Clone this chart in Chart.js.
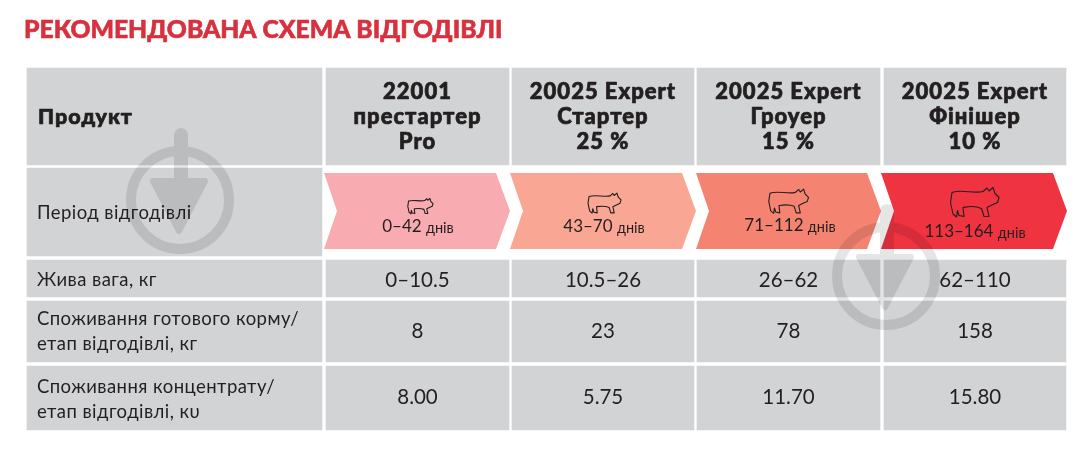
<!DOCTYPE html>
<html>
<head>
<meta charset="utf-8">
<style>
    html, body { margin: 0; padding: 0; background: #fff; }
    canvas { display: block; }
</style>
<script src="https://cdn.jsdelivr.net/npm/chart.js@4"></script>
</head>
<body>
<canvas id="scheme" width="1086" height="455"></canvas>
<script>
const title = "РЕКОМЕНДОВАНА СХЕМА ВІДГОДІВЛІ";
const productHeader = "Продукт";
const products = [
    ["22001", "престартер", "Pro"],
    ["20025 Expert", "Стартер", "25 %"],
    ["20025 Expert", "Гроуер", "15 %"],
    ["20025 Expert", "Фінішер", "10 %"],
];
const periodLabel = ["Період відгодівлі"];
const periodDays = ["0–42", "43–70", "71–112", "113–164"];
const daysUnit = "днів";
const weightLabel = ["Жива вага, кг"];
const weights = ["0–10.5", "10.5–26", "26–62", "62–110"];
const feedLabel = ["Споживання готового корму/", "етап відгодівлі, кг"];
const feed = ["8", "23", "78", "158"];
const concentrateLabel = ["Споживання концентрату/", "етап відгодівлі, кυ"];
const concentrate = ["8.00", "5.75", "11.70", "15.80"];

// table grid, in the units of the hidden scales
const colEdges = [[27, 322], [326, 509], [512, 694], [697, 880], [884, 1066]];
const rowEdges = [[68, 165], [168, 256], [260, 297], [301, 362], [366, 430]];
const arrowEdges = [324, 510, 696, 881, 1067];
const arrowColors = ["#f8abb0", "#f9a794", "#f58372", "#ef3340"];
const pigSizes = [[420, 206, 26], [604, 203, 34], [788, 201, 41], [974, 202, 50]];
const dayRows = [227, 227, 226, 232];
const FONT = "Lato, 'Noto Sans', sans-serif";
const INK = "#231f20";

const tablePlugin = {
    id: "tablePlugin",
    afterDatasetsDraw(chart) {
        const ctx = chart.ctx;
        const sx = v => chart.scales.x.getPixelForValue(v);
        const sy = v => chart.scales.y.getPixelForValue(v);
        const colMid = i => (colEdges[i][0] + colEdges[i][1]) / 2;
        const rowMid = i => (rowEdges[i][0] + rowEdges[i][1]) / 2;

        function drawLines(lines, x, y, font, align, spacing, heavy) {
            ctx.save();
            ctx.font = font;
            ctx.letterSpacing = spacing + "px";
            ctx.textAlign = align;
            ctx.textBaseline = "middle";
            ctx.fillStyle = INK;
            ctx.strokeStyle = INK;
            ctx.lineWidth = 0.7;
            lines.forEach((line, i) => {
                const ly = sy(y + (i - (lines.length - 1) / 2) * 25);
                ctx.fillText(line, sx(x), ly);
                if (heavy) ctx.strokeText(line, sx(x), ly);
            });
            ctx.restore();
        }

        // title
        ctx.save();
        ctx.font = "900 24.7px " + FONT;
        ctx.textAlign = "left";
        ctx.textBaseline = "middle";
        ctx.fillStyle = "#d9303e";
        ctx.strokeStyle = "#d9303e";
        ctx.lineWidth = 0.6;
        ctx.fillText(title, sx(24), sy(30));
        ctx.strokeText(title, sx(24), sy(30));
        ctx.restore();

        // period arrows
        arrowColors.forEach((color, i) => {
            const left = arrowEdges[i], tip = arrowEdges[i + 1];
            const top = 173, bottom = 249, mid = 211;
            ctx.beginPath();
            ctx.moveTo(sx(left), sy(top));
            ctx.lineTo(sx(tip - 14), sy(top));
            ctx.lineTo(sx(tip), sy(mid));
            ctx.lineTo(sx(tip - 14), sy(bottom));
            ctx.lineTo(sx(left), sy(bottom));
            ctx.lineTo(sx(left + 13), sy(mid));
            ctx.closePath();
            ctx.fillStyle = color;
            ctx.fill();
        });

        // pigs
        pigSizes.forEach(([cx, cy, w]) => {
            const k = w / 100;
            const px = v => sx(cx + (v - 50) * k);
            const py = v => sy(cy + (v - 31) * k);
            ctx.beginPath();
            ctx.moveTo(px(6), py(12));
            ctx.bezierCurveTo(px(25), py(5), px(50), py(15), px(68), py(10));
            ctx.lineTo(px(76), py(3));
            ctx.lineTo(px(80), py(9));
            ctx.lineTo(px(88), py(2));
            ctx.lineTo(px(92), py(14));
            ctx.lineTo(px(100), py(22));
            ctx.lineTo(px(97), py(32));
            ctx.lineTo(px(88), py(36));
            ctx.lineTo(px(76), py(42));
            ctx.lineTo(px(80), py(60));
            ctx.lineTo(px(70), py(60));
            ctx.lineTo(px(65), py(44));
            ctx.bezierCurveTo(px(50), py(38), px(40), py(40), px(28), py(42));
            ctx.lineTo(px(30), py(60));
            ctx.lineTo(px(20), py(58));
            ctx.lineTo(px(17), py(48));
            ctx.lineTo(px(15), py(61));
            ctx.lineTo(px(8), py(55));
            ctx.lineTo(px(3), py(32));
            ctx.closePath();
            ctx.strokeStyle = INK;
            ctx.lineWidth = 1.1;
            ctx.lineJoin = "round";
            ctx.stroke();
        });

        // table text
        drawLines([productHeader], 38, rowMid(0) + 1, "900 21.5px " + FONT, "left", 1, true);
        products.forEach((lines, i) => {
            drawLines(lines, colMid(i + 1), rowMid(0) + 0.5, "900 22px " + FONT, "center", 1, true);
        });
        const labelFont = "400 18.5px " + FONT;
        drawLines(periodLabel, 37, 213, labelFont, "left", 0.45);
        drawLines(weightLabel, 37, 280, labelFont, "left", 0.45);
        drawLines(feedLabel, 37, 332, labelFont, "left", 0.45);
        drawLines(concentrateLabel, 37, 400, labelFont, "left", 0.45);

        periodDays.forEach((days, i) => {
            ctx.textBaseline = "middle";
            ctx.textAlign = "left";
            ctx.fillStyle = INK;
            ctx.font = "400 17px " + FONT;
            const w1 = ctx.measureText(days + " ").width;
            ctx.font = "400 14.5px " + FONT;
            const w2 = ctx.measureText(daysUnit).width;
            const cx = [418, 604, 790, 975][i];
            const start = cx - (w1 + w2) / 2;
            ctx.font = "400 17px " + FONT;
            ctx.fillText(days + " ", sx(start), sy(dayRows[i]));
            ctx.font = "400 14.5px " + FONT;
            ctx.fillText(daysUnit, sx(start + w1), sy(dayRows[i] + 1));
        });

        [weights, feed, concentrate].forEach((values, r) => {
            const y = [280, 331, 397][r];
            values.forEach((value, i) => {
                drawLines([value], colMid(i + 1), y, "400 20.5px " + FONT, "center", 0);
            });
        });

        // faint watermarks on top of the table
        const mark = document.createElement("canvas");
        mark.width = chart.canvas.width;
        mark.height = chart.canvas.height;
        const m = mark.getContext("2d");
        m.scale(chart.currentDevicePixelRatio, chart.currentDevicePixelRatio);
        [[180, 200], [886, 276]].forEach(([cx, cy]) => {
            m.strokeStyle = "#000";
            m.fillStyle = "#000";
            m.lineWidth = 10;
            m.beginPath();
            m.arc(sx(cx), sy(cy), 49, 0, Math.PI * 2);
            m.stroke();
            m.lineCap = "round";
            m.lineWidth = 14;
            m.beginPath();
            m.moveTo(sx(cx + 1), sy(cy - 65));
            m.lineTo(sx(cx + 1), sy(cy - 15));
            m.stroke();
            m.lineJoin = "round";
            m.lineWidth = 6;
            m.beginPath();
            m.moveTo(sx(cx - 27), sy(cy - 19));
            m.lineTo(sx(cx + 25), sy(cy - 19));
            m.lineTo(sx(cx - 1), sy(cy + 31));
            m.closePath();
            m.fill();
            m.stroke();
        });
        ctx.save();
        ctx.setTransform(1, 0, 0, 1, 0, 0);
        ctx.globalAlpha = 0.1;
        ctx.drawImage(mark, 0, 0);
        ctx.restore();
    },
};

// one dataset per table column, one floating bar per row
const hasCell = (col, row) => col === 0 || row !== 1;
const datasets = colEdges.map((edge, col) => ({
    label: col === 0 ? productHeader : products[col - 1].join(" "),
    data: rowEdges
        .map((row, r) => (hasCell(col, r) ? { x: (edge[0] + edge[1]) / 2, y: row } : null))
        .filter(Boolean),
    barThickness: edge[1] - edge[0],
    backgroundColor: "#d1d3d4",
    borderWidth: 0,
    grouped: false,
}));

new Chart(document.getElementById("scheme").getContext("2d"), {
    type: "bar",
    data: { datasets },
    plugins: [tablePlugin],
    options: {
        responsive: false,
        animation: false,
        layout: { padding: 0 },
        plugins: { legend: { display: false }, tooltip: { enabled: false }, title: { display: false } },
        scales: {
            x: { type: "linear", min: 0, max: 1086, offset: false, display: false },
            y: { type: "linear", min: 0, max: 455, reverse: true, display: false },
        },
    },
});
</script>
</body>
</html>
